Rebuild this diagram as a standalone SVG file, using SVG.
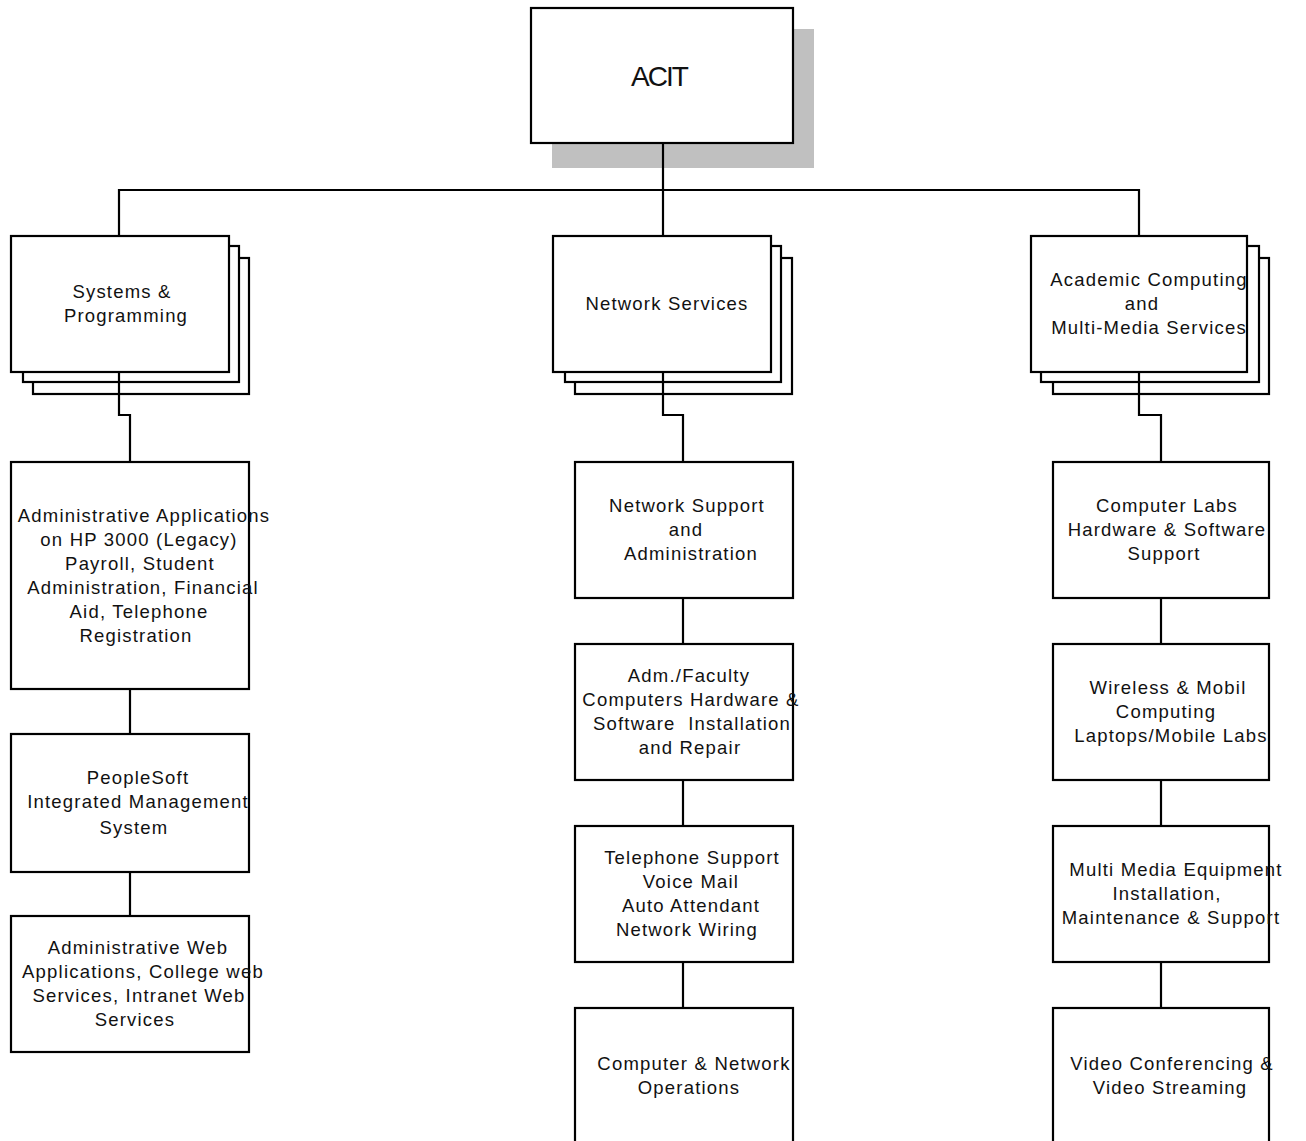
<svg xmlns="http://www.w3.org/2000/svg" width="1306" height="1141" viewBox="0 0 1306 1141">
<style>
.box{fill:#fff;stroke:#000;stroke-width:2.2}
.shadow{fill:#c0c0c0;stroke:none}
.conn{fill:none;stroke:#000;stroke-width:2.2}
text{font-family:"Liberation Sans",Arial,sans-serif;font-size:18.5px;letter-spacing:1.2px;fill:#111;text-anchor:middle}
.title{font-size:28px;letter-spacing:-2px}
</style>
<rect x="0" y="0" width="1306" height="1141" fill="#fff"/>
<g id="acit">
<rect class="shadow" x="552" y="29" width="262" height="139"/>
<rect class="box" x="531" y="8" width="262" height="135"/>
<text class="title" x="659" y="86">ACIT</text>
</g>
<g id="systems">
<rect class="box" x="33" y="258" width="216" height="136"/>
<rect class="box" x="23" y="246" width="216" height="136"/>
<rect class="box" x="11" y="236" width="218" height="136"/>
<text x="122" y="298">Systems &amp;</text>
<text x="126" y="322">Programming</text>
</g>
<g id="network">
<rect class="box" x="575" y="258" width="217" height="136"/>
<rect class="box" x="565" y="246" width="216" height="136"/>
<rect class="box" x="553" y="236" width="218" height="136"/>
<text x="667" y="310">Network Services</text>
</g>
<g id="academic">
<rect class="box" x="1053" y="258" width="216" height="136"/>
<rect class="box" x="1041" y="246" width="218" height="136"/>
<rect class="box" x="1031" y="236" width="216" height="136"/>
<text x="1149" y="286">Academic Computing</text>
<text x="1142" y="310">and</text>
<text x="1149" y="334">Multi-Media Services</text>
</g>
<g id="adminapps">
<rect class="box" x="11" y="462" width="238" height="227"/>
<text x="144" y="522">Administrative Applications</text>
<text x="139" y="546">on HP 3000 (Legacy)</text>
<text x="140" y="570">Payroll, Student</text>
<text x="143" y="594">Administration, Financial</text>
<text x="139" y="618">Aid, Telephone</text>
<text x="136" y="642">Registration</text>
</g>
<g id="peoplesoft">
<rect class="box" x="11" y="734" width="238" height="138"/>
<text x="138" y="784">PeopleSoft</text>
<text x="138" y="808">Integrated Management</text>
<text x="134" y="834">System</text>
</g>
<g id="adminweb">
<rect class="box" x="11" y="916" width="238" height="136"/>
<text x="138" y="954">Administrative Web</text>
<text x="143" y="978">Applications, College web</text>
<text x="139" y="1002">Services, Intranet Web</text>
<text x="135" y="1026">Services</text>
</g>
<g id="netsupport">
<rect class="box" x="575" y="462" width="218" height="136"/>
<text x="687" y="512">Network Support</text>
<text x="686" y="536">and</text>
<text x="691" y="560">Administration</text>
</g>
<g id="admfaculty">
<rect class="box" x="575" y="644" width="218" height="136"/>
<text x="689" y="682">Adm./Faculty</text>
<text x="691" y="706">Computers Hardware &amp;</text>
<text x="692" y="730" xml:space="preserve">Software  Installation</text>
<text x="690" y="754">and Repair</text>
</g>
<g id="telephone">
<rect class="box" x="575" y="826" width="218" height="136"/>
<text x="692" y="864">Telephone Support</text>
<text x="691" y="888">Voice Mail</text>
<text x="691" y="912">Auto Attendant</text>
<text x="687" y="936">Network Wiring</text>
</g>
<g id="operations">
<rect class="box" x="575" y="1008" width="218" height="150"/>
<text x="694" y="1070">Computer &amp; Network</text>
<text x="689" y="1094">Operations</text>
</g>
<g id="labs">
<rect class="box" x="1053" y="462" width="216" height="136"/>
<text x="1167" y="512">Computer Labs</text>
<text x="1167" y="536">Hardware &amp; Software</text>
<text x="1164" y="560">Support</text>
</g>
<g id="wireless">
<rect class="box" x="1053" y="644" width="216" height="136"/>
<text x="1168" y="694">Wireless &amp; Mobil</text>
<text x="1166" y="718">Computing</text>
<text x="1171" y="742">Laptops/Mobile Labs</text>
</g>
<g id="multimedia">
<rect class="box" x="1053" y="826" width="216" height="136"/>
<text x="1176" y="876">Multi Media Equipment</text>
<text x="1167" y="900">Installation,</text>
<text x="1171" y="924">Maintenance &amp; Support</text>
</g>
<g id="video">
<rect class="box" x="1053" y="1008" width="216" height="150"/>
<text x="1172" y="1070">Video Conferencing &amp;</text>
<text x="1170" y="1094">Video Streaming</text>
</g>
<g id="connectors">
<path class="conn" d="M663 143 V190"/>
<path class="conn" d="M119 236 V190 H1139 V236"/>
<path class="conn" d="M663 190 V236"/>
<path class="conn" d="M119 372 V415 H130 V462"/>
<path class="conn" d="M663 372 V415 H683 V462"/>
<path class="conn" d="M1139 372 V415 H1161 V462"/>
<path class="conn" d="M130 689 V734"/>
<path class="conn" d="M130 872 V916"/>
<path class="conn" d="M683 598 V644"/>
<path class="conn" d="M683 780 V826"/>
<path class="conn" d="M683 962 V1008"/>
<path class="conn" d="M1161 598 V644"/>
<path class="conn" d="M1161 780 V826"/>
<path class="conn" d="M1161 962 V1008"/>
</g>
</svg>
